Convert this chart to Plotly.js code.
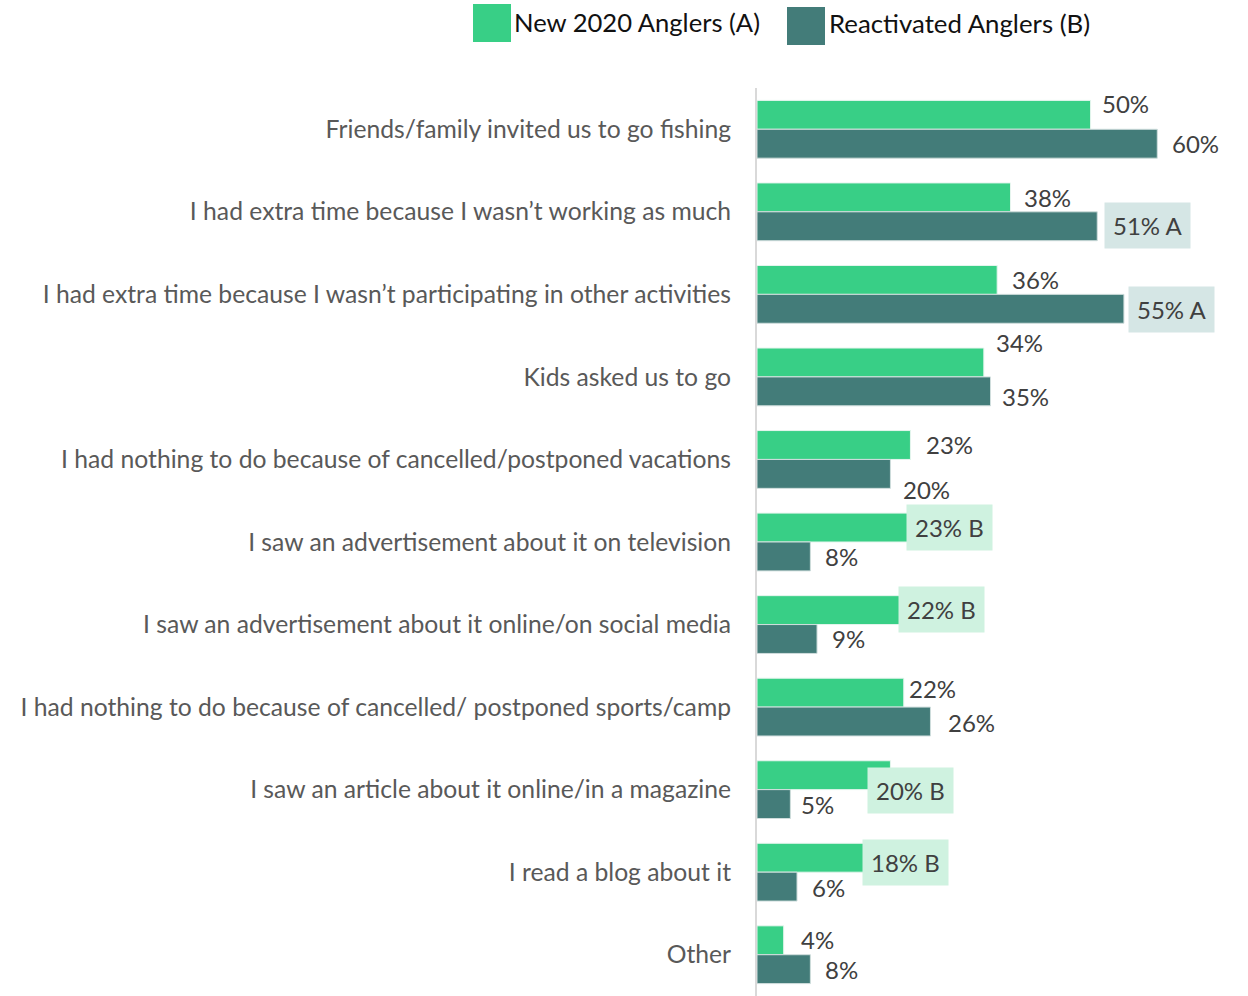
<!DOCTYPE html>
<html>
<head>
<meta charset="utf-8">
<script src="https://cdn.plot.ly/plotly-3.0.1.min.js"></script>
<style>html,body{margin:0;padding:0;background:#fff;}#chart{width:1248px;height:996px;}</style>
</head>
<body>
<div id="chart"></div>
<script>
// ---- data ----
const categories = [
  "Friends/family invited us to go fishing",
  "I had extra time because I wasn’t working as much",
  "I had extra time because I wasn’t participating in other activities",
  "Kids asked us to go",
  "I had nothing to do because of cancelled/postponed vacations",
  "I saw an advertisement about it on television",
  "I saw an advertisement about it online/on social media",
  "I had nothing to do because of cancelled/ postponed sports/camp",
  "I saw an article about it online/in a magazine",
  "I read a blog about it",
  "Other"
];
const seriesNames = ["New 2020 Anglers (A)", "Reactivated Anglers (B)"];
const newAnglers = [50, 38, 36, 34, 23, 23, 22, 22, 20, 18, 4];
const reactivated = [60, 51, 55, 35, 20, 8, 9, 26, 5, 6, 8];
const sigNew = ["", "", "", "", "", "B", "B", "", "B", "B", ""];
const sigReactivated = ["", "A", "A", "", "", "", "", "", "", "", ""];

// ---- label placement (pixel offsets: from bar end, from category centre) ----
const placeNew = [[10,-26],[12,-14],[14,-15],[11,-34],[15,-15],[-4,-15],[-6,-15],[4,-19],[-23,1],[-15,-10],[16,-15]];
const placeReact = [[14,14],[7,14],[4,15],[10,20],[12,30],[14,14],[14,14],[17,15],[10,15],[14,15],[14,15]];

const colors = ["#38CF86", "#437C79"];
const boxColors = ["#CFF2E0", "#D5E6E5"];
const FONT = "Lato, 'Open Sans', sans-serif";

const traces = [
  {type: "bar", orientation: "h", name: seriesNames[0], y: categories, x: newAnglers,
   marker: {color: colors[0], line: {color: "#E6F5EE", width: 1}}, hoverinfo: "x+y", showlegend: false},
  {type: "bar", orientation: "h", name: seriesNames[1], y: categories, x: reactivated,
   marker: {color: colors[1], line: {color: "#D0DEDD", width: 1}}, hoverinfo: "x+y", showlegend: false}
];

const annotations = [];
function addLabels(vals, sig, place, si) {
  vals.forEach((v, i) => {
    const boxed = sig[i] !== "";
    annotations.push({
      x: v, y: categories[i], xref: "x", yref: "y",
      text: v + "%" + (boxed ? " " + sig[i] : ""),
      showarrow: false, xanchor: "left", yanchor: "middle",
      xshift: place[i][0], yshift: -place[i][1],
      bgcolor: boxed ? boxColors[si] : "rgba(0,0,0,0)",
      borderpad: boxed ? 8 : 0,
      font: {family: FONT, size: 24, color: "#404040"}
    });
  });
}
addLabels(newAnglers, sigNew, placeNew, 0);
addLabels(reactivated, sigReactivated, placeReact, 1);

// custom legend (large swatches)
const W = 1248, H = 996;
const margin = {l: 757, r: 22, t: 88, b: 0};
const pw = W - margin.l - margin.r, ph = H - margin.t - margin.b;
function px2x(p) { return (p - margin.l) / pw; }
function py2y(p) { return 1 - (p - margin.t) / ph; }
const legendItems = [
  {sx: 473, sy: 4, tx: 512, ty: 22, fs: 25.6},
  {sx: 787, sy: 7, tx: 827, ty: 23, fs: 25.8}
];
const shapes = [];
legendItems.forEach((it, k) => {
  shapes.push({type: "rect", xref: "paper", yref: "paper", layer: "above",
    x0: px2x(it.sx), x1: px2x(it.sx + 38), y0: py2y(it.sy + 38), y1: py2y(it.sy),
    fillcolor: colors[k], line: {width: 0}});
  annotations.push({xref: "paper", yref: "paper", x: px2x(it.tx), y: py2y(it.ty),
    text: seriesNames[k], showarrow: false, xanchor: "left", yanchor: "middle",
    font: {family: FONT, size: it.fs, color: "#111111"}});
});

const layout = {
  width: W, height: H,
  margin: margin,
  barmode: "group",
  bargap: 0.3,
  bargroupgap: 0,
  paper_bgcolor: "#ffffff",
  plot_bgcolor: "#ffffff",
  showlegend: false,
  xaxis: {range: [0, 70.3], visible: false, fixedrange: true},
  yaxis: {type: "category", autorange: "reversed", showgrid: false, zeroline: false,
    showline: true, linecolor: "#D9D9D9", linewidth: 2, ticks: "",
    ticklabelstandoff: 19,
    tickfont: {family: FONT, size: 24.7, color: "#595959"}},
  annotations: annotations,
  shapes: shapes
};

Plotly.newPlot("chart", traces, layout, {displayModeBar: false, staticPlot: true});
</script>
</body>
</html>
